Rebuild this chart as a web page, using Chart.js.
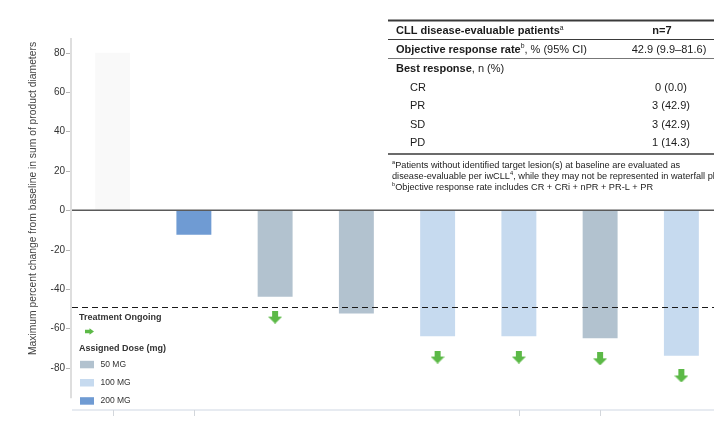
<!DOCTYPE html>
<html>
<head>
<meta charset="utf-8">
<script src="https://cdn.jsdelivr.net/npm/chart.js@4/dist/chart.umd.min.js"></script>
<style>
  html, body { margin: 0; padding: 0; overflow: hidden; background: #fff; width: 714px; height: 424px; }
  #wrap { position: absolute; left: 0; top: 0; width: 730px; height: 424px; }
</style>
</head>
<body>
<div id="wrap"><canvas id="c" width="730" height="424"></canvas></div>
<script>
// Waterfall data: one bar per patient
const patients = ['Pt 1', 'Pt 2', 'Pt 3', 'Pt 4', 'Pt 5', 'Pt 6', 'Pt 7', 'Pt 8'];
const maxChange = [80, -12.5, -44, -52.5, -64, -64, -65, -74];
const assignedDose = ['', '200 MG', '50 MG', '50 MG', '100 MG', '100 MG', '50 MG', '100 MG'];
// Treatment-ongoing marker level under each bar (null = not ongoing)
const ongoingMarker = [null, null, -54.3, null, -74.6, -74.6, -75.5, -84.2];
const yTicks = [80, 60, 40, 20, 0, -20, -40, -60, -80];
const responseCutoff = -49;
const doseLevels = ['50 MG', '100 MG', '200 MG'];

// Summary table
const tableHeader = ['CLL disease-evaluable patients', 'n=7'];
const orrRow = ['Objective response rate', '42.9 (9.9–81.6)'];
const bestResponse = ['CR', 'PR', 'SD', 'PD'];
const bestResponseValues = ['0 (0.0)', '3 (42.9)', '3 (42.9)', '1 (14.3)'];

const FONT = '"Liberation Sans", Arial, Helvetica, sans-serif';
const doseColor = { '50 MG': '#b2c2cf', '100 MG': '#c6daef', '200 MG': '#6f9bd3', '': '#f9f9f9' };
const ARROW_GREEN = '#5cb947';
const tickMarkShown = [true, true, false, false, false, true, true, false];

function makeDownArrow() {
  const c = document.createElement('canvas');
  c.width = 14; c.height = 13;
  const g = c.getContext('2d');
  g.fillStyle = ARROW_GREEN;
  g.beginPath();
  g.moveTo(4, 0); g.lineTo(10, 0); g.lineTo(10, 6); g.lineTo(14, 6);
  g.lineTo(7, 13); g.lineTo(0, 6); g.lineTo(4, 6);
  g.closePath(); g.fill();
  return c;
}

function drawRightArrow(ctx, x, y) {
  ctx.save();
  ctx.fillStyle = ARROW_GREEN;
  ctx.beginPath();
  ctx.moveTo(x, y - 1.8); ctx.lineTo(x + 4.5, y - 1.8); ctx.lineTo(x + 4.5, y - 3.3);
  ctx.lineTo(x + 9, y); ctx.lineTo(x + 4.5, y + 3.3); ctx.lineTo(x + 4.5, y + 1.8);
  ctx.lineTo(x, y + 1.8); ctx.closePath(); ctx.fill();
  ctx.restore();
}

// Draws text runs [{t, bold, sup}] starting at x
function drawRuns(ctx, runs, x, y, size, color) {
  ctx.save();
  ctx.fillStyle = color;
  ctx.textBaseline = 'middle';
  ctx.textAlign = 'left';
  let cx = x;
  for (const r of runs) {
    const s = r.sup ? size * 0.62 : size;
    ctx.font = (r.bold ? 'bold ' : '') + s + 'px ' + FONT;
    ctx.fillText(r.t, cx, r.sup ? y - size * 0.3 : y);
    cx += ctx.measureText(r.t).width;
  }
  ctx.restore();
}

const axesPlugin = {
  id: 'waterfallDecor',
  afterDatasetsDraw(chart) {
    const ctx = chart.ctx;
    const ys = chart.scales.y;
    const area = chart.chartArea;
    // zero baseline
    ctx.save();
    ctx.strokeStyle = '#5a5a5a';
    ctx.lineWidth = 1.5;
    ctx.beginPath();
    ctx.moveTo(area.left, ys.getPixelForValue(0));
    ctx.lineTo(area.right, ys.getPixelForValue(0));
    ctx.stroke();
    // response cutoff
    ctx.strokeStyle = '#1a1a1a';
    ctx.lineWidth = 1.2;
    ctx.setLineDash([6, 4]);
    ctx.beginPath();
    const yc = Math.round(ys.getPixelForValue(responseCutoff)) + 0.5;
    ctx.moveTo(area.left, yc);
    ctx.lineTo(area.right, yc);
    ctx.stroke();
    ctx.restore();
  },
  afterDraw(chart) {
    const ctx = chart.ctx;
    const ys = chart.scales.y, xs = chart.scales.x;
    const area = chart.chartArea;
    ctx.save();
    // y axis line
    ctx.strokeStyle = '#dedede';
    ctx.lineWidth = 2;
    ctx.beginPath();
    ctx.moveTo(area.left - 1, area.top);
    ctx.lineTo(area.left - 1, ys.getPixelForValue(-95.5));
    ctx.stroke();
    // y ticks & labels
    ctx.font = '10px ' + FONT;
    ctx.fillStyle = '#333';
    ctx.textAlign = 'right';
    ctx.textBaseline = 'middle';
    ctx.strokeStyle = '#b5b5b5';
    ctx.lineWidth = 1;
    for (const v of yTicks) {
      const py = Math.round(ys.getPixelForValue(v)) + 0.5;
      ctx.beginPath();
      ctx.moveTo(area.left - 6, py);
      ctx.lineTo(area.left - 2, py);
      ctx.stroke();
      ctx.fillText(String(v), area.left - 7, py);
    }
    // x axis line and ticks
    ctx.strokeStyle = '#dfe5ec';
    ctx.lineWidth = 1.5;
    ctx.beginPath();
    ctx.moveTo(area.left, area.bottom);
    ctx.lineTo(area.right, area.bottom);
    ctx.stroke();
    ctx.strokeStyle = '#d3d7dc';
    ctx.lineWidth = 1;
    patients.forEach((p, i) => {
      if (!tickMarkShown[i]) return;
      const px = Math.round(xs.getPixelForValue(i)) + 0.5;
      ctx.beginPath();
      ctx.moveTo(px, area.bottom);
      ctx.lineTo(px, area.bottom + 6);
      ctx.stroke();
    });
    // y axis title
    ctx.translate(33, 198.5);
    ctx.rotate(-Math.PI / 2);
    ctx.font = '10.3px ' + FONT;
    ctx.fillStyle = '#444';
    ctx.textAlign = 'center';
    ctx.fillText('Maximum percent change from baseline in sum of product diameters', 0, 0);
    ctx.restore();

    // legend
    drawRuns(ctx, [{ t: 'Treatment Ongoing', bold: true }], 79, 318, 9, '#333');
    drawRightArrow(ctx, 85, 331.5);
    drawRuns(ctx, [{ t: 'Assigned Dose (mg)', bold: true }], 79, 349, 9, '#333');
    doseLevels.forEach((d, i) => {
      const y = 364.5 + i * 18.2;
      ctx.fillStyle = doseColor[d];
      ctx.fillRect(80, y - 3.7, 14, 7.5);
      drawRuns(ctx, [{ t: d }], 100.5, y, 8.5, '#333');
    });

    // summary table
    const L = 388, R = chart.width;
    const txt = '#1b1b1b';
    ctx.save();
    ctx.strokeStyle = '#3a3a3a';
    ctx.lineWidth = 2;
    ctx.beginPath(); ctx.moveTo(L, 20.5); ctx.lineTo(R, 20.5); ctx.stroke();
    ctx.lineWidth = 1;
    ctx.beginPath(); ctx.moveTo(L, 39.5); ctx.lineTo(R, 39.5); ctx.stroke();
    ctx.strokeStyle = '#777';
    ctx.beginPath(); ctx.moveTo(L, 58.5); ctx.lineTo(R, 58.5); ctx.stroke();
    ctx.strokeStyle = '#3a3a3a';
    ctx.lineWidth = 1.5;
    ctx.beginPath(); ctx.moveTo(L, 154); ctx.lineTo(R, 154); ctx.stroke();
    ctx.restore();

    drawRuns(ctx, [{ t: tableHeader[0], bold: true }, { t: 'a', sup: true }], 396, 31, 11, txt);
    drawRuns(ctx, [{ t: orrRow[0], bold: true }, { t: 'b', sup: true }, { t: ', % (95% CI)' }], 396, 49.5, 11, txt);
    drawRuns(ctx, [{ t: 'Best response', bold: true }, { t: ', n (%)' }], 396, 68.5, 11, txt);

    ctx.save();
    ctx.textBaseline = 'middle';
    ctx.textAlign = 'center';
    ctx.fillStyle = txt;
    ctx.font = 'bold 11px ' + FONT;
    ctx.fillText(tableHeader[1], 662, 31);
    ctx.font = '11px ' + FONT;
    ctx.fillText(orrRow[1], 669, 49.5);
    bestResponse.forEach((r, i) => {
      const y = 87.5 + i * 18.6;
      ctx.textAlign = 'left';
      ctx.fillText(r, 410, y);
      ctx.textAlign = 'center';
      ctx.fillText(bestResponseValues[i], 671, y);
    });
    ctx.restore();

    const fn = 9.2;
    drawRuns(ctx, [{ t: 'a', sup: true }, { t: 'Patients without identified target lesion(s) at baseline are evaluated as' }], 392, 165, fn, txt);
    drawRuns(ctx, [{ t: 'disease-evaluable per iwCLL' }, { t: '4', sup: true }, { t: ', while they may not be represented in waterfall plot' }], 392, 176, fn, txt);
    drawRuns(ctx, [{ t: 'b', sup: true }, { t: 'Objective response rate includes CR + CRi + nPR + PR-L + PR' }], 392, 187, fn, txt);
  }
};

new Chart(document.getElementById('c'), {
  type: 'bar',
  data: {
    labels: patients,
    datasets: [
      {
        type: 'line',
        label: 'Treatment Ongoing',
        data: ongoingMarker,
        showLine: false,
        pointStyle: makeDownArrow(),
        pointRadius: 7,
        order: 0
      },
      {
        label: 'Maximum change',
        data: maxChange,
        backgroundColor: assignedDose.map(d => doseColor[d]),
        borderWidth: 0,
        barPercentage: 0.43,
        categoryPercentage: 1,
        order: 1
      }
    ]
  },
  options: {
    responsive: false,
    devicePixelRatio: 1,
    animation: false,
    layout: { padding: { left: 72, right: 8, top: 38, bottom: 14 } },
    plugins: { legend: { display: false }, tooltip: { enabled: false } },
    scales: {
      x: { display: false, offset: true },
      y: { display: false, min: -101.5, max: 87.5 }
    }
  },
  plugins: [axesPlugin]
});
</script>
</body>
</html>
